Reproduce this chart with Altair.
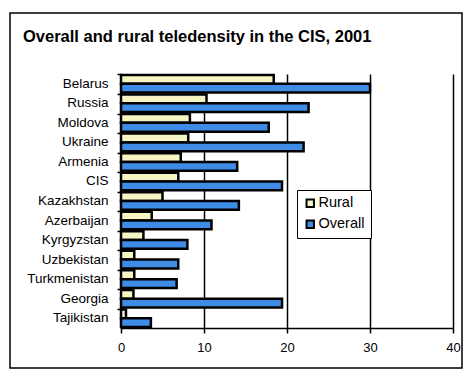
import altair as alt
import pandas as pd

countries = ["Belarus", "Russia", "Moldova", "Ukraine", "Armenia", "CIS", "Kazakhstan",
             "Azerbaijan", "Kyrgyzstan", "Uzbekistan", "Turkmenistan", "Georgia", "Tajikistan"]
rural = [18.4, 10.3, 8.3, 8.1, 7.2, 6.9, 5.0, 3.7, 2.7, 1.6, 1.6, 1.5, 0.6]
overall = [30.0, 22.6, 17.8, 22.0, 14.0, 19.4, 14.2, 10.9, 8.0, 6.9, 6.7, 19.4, 3.6]
series = ["Rural", "Overall"]
colors = ["#f7f5c4", "#3e8ce6"]
title_text = "Overall and rural teledensity in the CIS, 2001"

rows = []
for c, r, o in zip(countries, rural, overall):
    rows.append({"country": c, "series": "Rural", "value": r})
    rows.append({"country": c, "series": "Overall", "value": o})
df = pd.DataFrame(rows)

W, H = 332, 254

bars = alt.Chart(df).mark_bar(stroke="black", strokeWidth=2.5).encode(
    x=alt.X("value:Q", scale=alt.Scale(domain=[0, 40], nice=False),
            axis=alt.Axis(values=[0, 10, 20, 30, 40], title=None, grid=True,
                          gridColor="black", gridWidth=1.5, gridOpacity=1,
                          domainColor="black", domainWidth=1.5,
                          tickColor="black", tickSize=5, tickWidth=1.5,
                          labelFlush=False,
                          labelFontSize=13, labelPadding=8, labelColor="black")),
    y=alt.Y("country:N", sort=countries,
            scale=alt.Scale(paddingInner=0.1, paddingOuter=0.05),
            axis=alt.Axis(title=None, bandPosition=0, domainColor="black", domainWidth=2,
                          tickColor="black", tickSize=4, tickWidth=1.5,
                          labelFontSize=13.5, labelPadding=9, labelColor="black",
                          labelLimit=200)),
    yOffset=alt.YOffset("series:N", sort=series),
    color=alt.Color("series:N", sort=series,
                    scale=alt.Scale(domain=series, range=colors),
                    legend=alt.Legend(title=None, orient="none", legendX=176, legendY=116,
                                      symbolType="square", symbolSize=55,
                                      symbolStrokeColor="black", symbolStrokeWidth=2,
                                      labelFontSize=14.5, labelColor="black",
                                      strokeColor="black", fillColor="white",
                                      padding=6, rowPadding=5, labelOffset=1,
                                      labelLimit=200)),
)

one = pd.DataFrame({"a": [0]})
frame = alt.Chart(one).mark_rect(
    fill=None, stroke="black", strokeWidth=1.5).encode(
    x=alt.value(-111), x2=alt.value(341), y=alt.value(-61), y2=alt.value(294))

title = alt.Chart(one).mark_text(
    align="left", baseline="middle", fontSize=16.5, fontWeight="bold",
    color="black", font="Liberation Sans").encode(
    x=alt.value(-98), y=alt.value(-37), text=alt.value(title_text))

chart = alt.layer(frame, title, bars).properties(
    width=W, height=H,
    padding={"left": 121, "top": 74, "right": 20, "bottom": 51},
    autosize=alt.AutoSizeParams(type="none"),
).configure(font="Liberation Sans").configure_view(stroke=None)

chart.save("out.html", embed_options={"renderer": "svg", "actions": False})
